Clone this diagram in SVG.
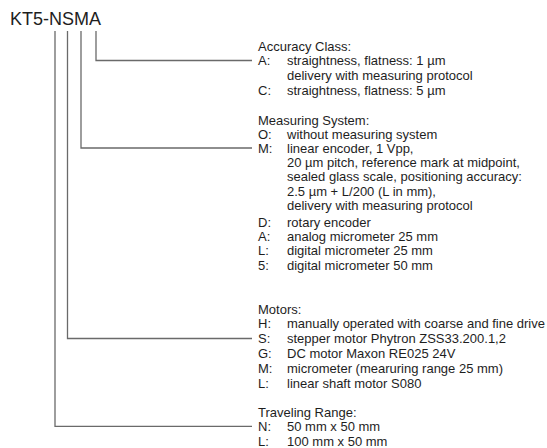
<svg xmlns="http://www.w3.org/2000/svg" width="547" height="448" viewBox="0 0 547 448">
<style>
text{font-family:"Liberation Sans",Arial,sans-serif;fill:#1e1e1e;font-size:13px}
.title{font-size:18px}
.c{fill:none;stroke:#6a6a6a;stroke-width:1.3}
</style>
<rect width="547" height="448" fill="#ffffff"/>
<g id="connectors">
<polyline class="c" points="96,31 96,60.5 252,60.5"/>
<polyline class="c" points="81,31 81,148 252,148"/>
<polyline class="c" points="67.5,31 67.5,338.5 252,338.5"/>
<polyline class="c" points="55,31 55,426.3 252,426.3"/>
</g>
<g id="title">
<text class="title" x="10" y="24.5">KT5-NSMA</text>
</g>
<g id="accuracy">
<text x="258" y="51.3">Accuracy Class:</text>
<text x="258" y="65.3">A:</text><text x="287" y="65.3">straightness, flatness: 1 µm</text>
<text x="287" y="79.7">delivery with measuring protocol</text>
<text x="258" y="94.5">C:</text><text x="287" y="94.5">straightness, flatness: 5 µm</text>
</g>
<g id="measuring">
<text x="258" y="124.6">Measuring System:</text>
<text x="258" y="138.6">O:</text><text x="287" y="138.6">without measuring system</text>
<text x="258" y="153">M:</text><text x="287" y="153">linear encoder, 1 Vpp,</text>
<text x="287" y="167">20 µm pitch, reference mark at midpoint,</text>
<text x="287" y="181.3">sealed glass scale, positioning accuracy:</text>
<text x="287" y="195.6">2.5 µm + L/200 (L in mm),</text>
<text x="287" y="210.1">delivery with measuring protocol</text>
<text x="258" y="227.3">D:</text><text x="287" y="227.3">rotary encoder</text>
<text x="258" y="241.3">A:</text><text x="287" y="241.3">analog micrometer 25 mm</text>
<text x="258" y="255.3">L:</text><text x="287" y="255.3">digital micrometer 25 mm</text>
<text x="258" y="269.6">5:</text><text x="287" y="269.6">digital micrometer 50 mm</text>
</g>
<g id="motors">
<text x="258" y="314">Motors:</text>
<text x="258" y="328.2">H:</text><text x="287" y="328.2">manually operated with coarse and fine drive</text>
<text x="258" y="343">S:</text><text x="287" y="343">stepper motor Phytron ZSS33.200.1,2</text>
<text x="258" y="357.6">G:</text><text x="287" y="357.6">DC motor Maxon RE025 24V</text>
<text x="258" y="372.6">M:</text><text x="287" y="372.6">micrometer (mearuring range 25 mm)</text>
<text x="258" y="387.6">L:</text><text x="287" y="387.6">linear shaft motor S080</text>
</g>
<g id="range">
<text x="258" y="416.5">Traveling Range:</text>
<text x="258" y="431">N:</text><text x="287" y="431">50 mm x 50 mm</text>
<text x="258" y="445.5">L:</text><text x="287" y="445.5">100 mm x 50 mm</text>
</g>
</svg>
